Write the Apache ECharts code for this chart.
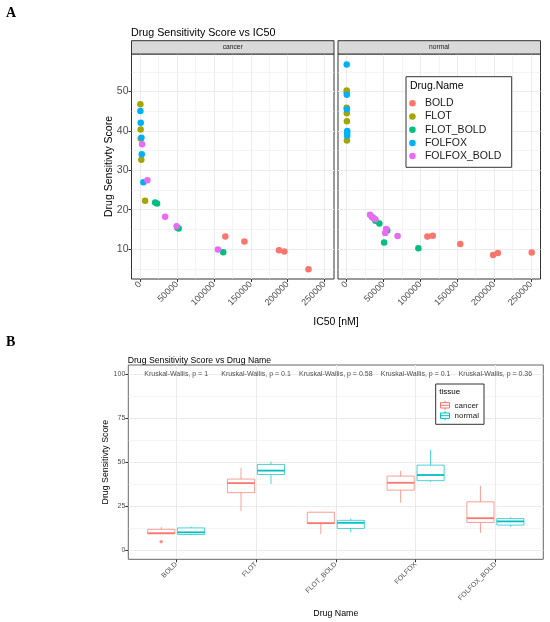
<!DOCTYPE html>
<html><head><meta charset="utf-8">
<script src="https://cdn.jsdelivr.net/npm/echarts@6/dist/echarts.min.js"></script>
<style>html,body{margin:0;padding:0;background:#fff}#c{width:550px;height:622px}</style>
</head><body><div id="c"></div>
<script>
// ---------- data ----------
const drugs = ['BOLD','FLOT','FLOT_BOLD','FOLFOX','FOLFOX_BOLD'];
const tissues = ['cancer','normal'];
// Panel A: [IC50 nM, Drug Sensitivity Score]
const cancerBOLD = [[115500,13.2],[141400,11.9],[188200,9.7],[195500,9.4],[228200,4.9]];
const cancerFLOT = [[400,46.8],[800,40.4],[900,38.1],[1700,32.7],[6800,22.3]];
const cancerFLOT_BOLD = [[20500,21.8],[23000,21.6],[50500,15.4],[52300,15.2],[112700,9.2]];
const cancerFOLFOX = [[400,45.1],[900,42.1],[1800,38.3],[2300,34.1],[4500,27.0]];
const cancerFOLFOX_BOLD = [[2700,36.6],[10000,27.5],[34000,18.2],[49500,15.8],[105500,9.9]];
const normalBOLD = [[109500,13.2],[116800,13.4],[154100,11.3],[198600,8.5],[205000,9.0],[250900,9.1]];
const normalFLOT = [[200,50.3],[300,49.8],[200,45.9],[300,44.5],[450,42.5],[450,37.6]];
const normalFLOT_BOLD = [[35500,18.0],[39100,17.2],[44500,16.5],[55100,14.7],[50900,11.7],[97300,10.2]];
const normalFOLFOX = [[200,56.9],[300,49.2],[400,45.5],[900,40.0],[700,39.4],[800,38.8]];
const normalFOLFOX_BOLD = [[31800,18.7],[34500,18.1],[39100,17.6],[53600,15.1],[52300,14.1],[69100,13.3]];
// Panel B: per drug [min, Q1, median, Q3, max]
const boxCancer = [[9.4,9.4,9.7,11.9,13.2],[22.3,32.7,38.1,40.4,46.8],[9.2,15.2,15.4,21.6,21.8],[27.0,34.1,38.3,42.1,45.1],[9.9,15.8,18.2,27.5,36.6]];
const boxNormal = [[8.5,9.0,10.2,12.7,13.4],[37.6,43.0,45.2,48.7,50.3],[10.2,12.4,15.6,17.0,18.0],[38.8,39.5,42.7,48.3,56.9],[13.3,14.3,16.4,18.0,18.7]];
const outliersCancer = [[0,4.9]]; // [drug index, value]
const pValues = ['1','0.1','0.58','0.1','0.36'];
// tick labels
const xTicksA = [0,50000,100000,150000,200000,250000];
const yTicksA = [10,20,30,40,50];
const yTicksB = [0,25,50,75,100];
const xTicksB = [0,1,2,3,4];

// ---------- styles ----------
const drugColors = ['#F8766D','#A3A500','#00BF7D','#00B0F6','#E76BF3'];
const tissueColors = ['#F8766D','#00BFC4'];
const FONT = '"Liberation Sans", Arial, Helvetica, sans-serif';
const GRIDC = '#ebebeb';
const A_X = [-11600, 262800], A_Y = [2.4, 59.55];
const B_X = [-0.6, 4.6], B_Y = [-5.1, 105.1];
const DODGE = 0.1875, HALF = 0.17;
const NOLINE = {show:false, onZero:false};

function mids(t, lo, hi){
  const step = t[1]-t[0], out=[];
  for (let v = t[0]-step/2; v <= hi; v += step) if (v >= lo) out.push(v);
  return out;
}

const dataA = [
  [cancerBOLD, cancerFLOT, cancerFLOT_BOLD, cancerFOLFOX, cancerFOLFOX_BOLD],
  [normalBOLD, normalFLOT, normalFLOT_BOLD, normalFOLFOX, normalFOLFOX_BOLD]
];

const gridsA = [
  {left:131.5, top:54, width:202.5, height:225},
  {left:338, top:54, width:202.5, height:225}
];
const gridB = {left:128.3, top:365, width:415, height:194.3};

const grids = gridsA.concat([gridB]).map(g => Object.assign({show:true, borderColor:'#333', borderWidth:1, backgroundColor:'#fff', containLabel:false}, g));
grids[2].borderColor = '#666';

const xAxes = [], yAxes = [];
gridsA.forEach((g, gi) => {
  xAxes.push({type:'value', gridIndex:gi, min:A_X[0], max:A_X[1], position:'bottom',
    axisLine:NOLINE,
    axisTick:{show:true, length:3, customValues:xTicksA, lineStyle:{color:'#333'}},
    axisLabel:{customValues:xTicksA, rotate:45, fontSize:9, color:'#4d4d4d', margin:4, fontFamily:FONT, formatter:v=>String(v)},
    splitLine:{show:true, lineStyle:{color:GRIDC, width:1}}});
  xAxes.push({type:'value', gridIndex:gi, min:A_X[0], max:A_X[1], position:'top',
    axisLine:NOLINE, axisLabel:{show:false},
    axisTick:{show:false, customValues:mids(xTicksA, A_X[0], A_X[1])},
    splitLine:{show:true, lineStyle:{color:GRIDC, width:0.5}}});
  yAxes.push({type:'value', gridIndex:gi, min:A_Y[0], max:A_Y[1], position:'left',
    axisLine:NOLINE,
    axisTick:{show:gi===0, length:3, customValues:yTicksA, lineStyle:{color:'#333'}},
    axisLabel:{show:gi===0, customValues:yTicksA, fontSize:10.5, color:'#4d4d4d', margin:3, fontFamily:FONT},
    splitLine:{show:true, lineStyle:{color:GRIDC, width:1}},
    name: gi===0 ? 'Drug Sensitivty Score' : '', nameLocation:'middle', nameGap:17, nameMoveOverlap:false,
    nameTextStyle:{fontSize:10.5, color:'#000', fontFamily:FONT}});
  yAxes.push({type:'value', gridIndex:gi, min:A_Y[0], max:A_Y[1], position:'right',
    axisLine:NOLINE, axisLabel:{show:false},
    axisTick:{show:false, customValues:mids(yTicksA, A_Y[0], A_Y[1])},
    splitLine:{show:true, lineStyle:{color:GRIDC, width:0.5}}});
});
// panel B axes
xAxes.push({type:'value', gridIndex:2, min:B_X[0], max:B_X[1], position:'bottom',
  axisLine:NOLINE,
  axisTick:{show:true, length:3, customValues:xTicksB, lineStyle:{color:'#333'}},
  axisLabel:{customValues:xTicksB, rotate:45, fontSize:7, color:'#4d4d4d', margin:4, fontFamily:FONT, formatter:v=>drugs[v]},
  splitLine:{show:true, lineStyle:{color:GRIDC, width:1}},
  name:'Drug Name', nameLocation:'middle', nameGap:49.5, nameTextStyle:{fontSize:8.8, color:'#000', fontFamily:FONT}});
yAxes.push({type:'value', gridIndex:2, min:B_Y[0], max:B_Y[1], position:'left',
  axisLine:NOLINE,
  axisTick:{show:true, length:3, customValues:yTicksB, lineStyle:{color:'#333'}},
  axisLabel:{customValues:yTicksB, fontSize:7, color:'#4d4d4d', margin:3, fontFamily:FONT},
  splitLine:{show:true, lineStyle:{color:GRIDC, width:1}},
  name:'Drug Sensitivty Score', nameLocation:'middle', nameGap:18, nameMoveOverlap:false,
  nameTextStyle:{fontSize:8.8, color:'#000', fontFamily:FONT}});
yAxes.push({type:'value', gridIndex:2, min:B_Y[0], max:B_Y[1], position:'right',
  axisLine:NOLINE, axisLabel:{show:false},
  axisTick:{show:false, customValues:mids(yTicksB, B_Y[0], B_Y[1])},
  splitLine:{show:true, lineStyle:{color:GRIDC, width:0.5}}});

const series = [];
dataA.forEach((facet, fi) => {
  facet.forEach((pts, di) => {
    series.push({type:'scatter', name:drugs[di], xAxisIndex:fi*2, yAxisIndex:fi*2,
      data:pts, symbolSize:6.5, itemStyle:{color:drugColors[di], opacity:1}, z:3});
  });
});

function boxRender(offset, color){
  return function(params, api){
    const x = api.value(0) + offset;
    const lo = api.value(1), q1 = api.value(2), med = api.value(3), q3 = api.value(4), hi = api.value(5);
    const tl = api.coord([x-HALF, q3]), br = api.coord([x+HALF, q1]);
    const cHi = api.coord([x, hi]), cQ3 = api.coord([x, q3]), cQ1 = api.coord([x, q1]), cLo = api.coord([x, lo]);
    const mL = api.coord([x-HALF, med]), mR = api.coord([x+HALF, med]);
    const thin = {stroke:color, lineWidth:1, opacity:0.7};
    return {type:'group', children:[
      {type:'line', shape:{x1:cHi[0], y1:cHi[1], x2:cQ3[0], y2:cQ3[1]}, style:thin},
      {type:'line', shape:{x1:cQ1[0], y1:cQ1[1], x2:cLo[0], y2:cLo[1]}, style:thin},
      {type:'rect', shape:{x:tl[0], y:tl[1], width:br[0]-tl[0], height:br[1]-tl[1]}, style:{fill:'#fff', stroke:color, lineWidth:1, strokeOpacity:0.7}},
      {type:'line', shape:{x1:mL[0], y1:mL[1], x2:mR[0], y2:mR[1]}, style:{stroke:color, lineWidth:1.8}}
    ]};
  };
}
[boxCancer, boxNormal].forEach((boxes, ti) => {
  series.push({type:'custom', name:tissues[ti], xAxisIndex:4, yAxisIndex:4,
    itemStyle:{color:tissueColors[ti]},
    renderItem: boxRender(ti===0 ? -DODGE : DODGE, tissueColors[ti]),
    encode:{x:0, y:[1,2,3,4,5]},
    data: boxes.map((b, i) => [i].concat(b)), z:3});
});
series.push({type:'scatter', name:'cancer', xAxisIndex:4, yAxisIndex:4,
  data: outliersCancer.map(o => [o[0]-DODGE, o[1]]), symbolSize:3.5,
  itemStyle:{color:tissueColors[0]}, z:4});
series.push({type:'scatter', name:'kw', xAxisIndex:4, yAxisIndex:4,
  data: pValues.map((p, i) => [i, 100]), symbolSize:1,
  itemStyle:{color:'rgba(0,0,0,0)'}, z:5,
  label:{show:true, position:'inside', fontSize:7, color:'#1a1a1a', fontFamily:FONT,
    formatter: p => 'Kruskal-Wallis, p = ' + pValues[p.dataIndex]}});

const boxIcon = 'path://M0,2H10V8H0Z M0,5H10 M5,0V2 M5,8V10';

const option = {
  animation:false,
  textStyle:{fontFamily:FONT},
  title:[
    {text:'Drug Sensitivity Score vs IC50', left:131, top:28, padding:0,
      textStyle:{fontSize:10.7, fontWeight:'normal', color:'#000', fontFamily:FONT}},
    {text:'Drug Sensitivity Score vs Drug Name', left:127.7, top:356, padding:0,
      textStyle:{fontSize:8.7, fontWeight:'normal', color:'#000', fontFamily:FONT}}
  ],
  grid: grids,
  xAxis: xAxes,
  yAxis: yAxes,
  legend:[
    {data: drugs, orient:'vertical', left:409.2, top:96.7, padding:0, itemGap:0,
      itemWidth:15, itemHeight:6.5, icon:'circle', selectedMode:false,
      textStyle:{fontSize:10.5, color:'#1a1a1a', lineHeight:13.2, fontFamily:FONT}},
    {data: tissues.map((t, i) => ({name:t, itemStyle:{color:'#fff', borderColor:tissueColors[i], borderWidth:1}})),
      orient:'vertical', left:440, top:400.1, padding:0, itemGap:0,
      itemWidth:9, itemHeight:9, icon:boxIcon, selectedMode:false,
      textStyle:{fontSize:8, color:'#1a1a1a', lineHeight:10.4, fontFamily:FONT}}
  ],
  graphic:[
    {type:'text', left:6, top:6, z:10, style:{text:'A', font:'bold 14px "Liberation Serif", "DejaVu Serif", serif', fill:'#000'}},
    {type:'text', left:6, top:335, z:10, style:{text:'B', font:'bold 14px "Liberation Serif", "DejaVu Serif", serif', fill:'#000'}},
    // facet strips
    {type:'rect', shape:{x:131.5, y:40.7, width:202.5, height:13.3}, z:5, style:{fill:'#d9d9d9', stroke:'#333', lineWidth:1}},
    {type:'rect', shape:{x:338, y:40.7, width:202.5, height:13.3}, z:5, style:{fill:'#d9d9d9', stroke:'#333', lineWidth:1}},
    {type:'text', x:131.5+101.25, y:47.4, z:6, style:{text:'cancer', font:'6.7px '+FONT, fill:'#1a1a1a', align:'center', verticalAlign:'middle'}},
    {type:'text', x:338+101.25, y:47.4, z:6, style:{text:'normal', font:'6.7px '+FONT, fill:'#1a1a1a', align:'center', verticalAlign:'middle'}},
    // x title panel A
    {type:'text', x:336, y:322, z:6, style:{text:'IC50 [nM]', font:'10.5px '+FONT, fill:'#000', align:'center', verticalAlign:'middle'}},
    // legend boxes
    {type:'rect', shape:{x:406, y:76.7, width:105.7, height:90.6}, z:3, style:{fill:'#fff', stroke:'#333', lineWidth:1}},
    {type:'text', x:410, y:86, z:6, style:{text:'Drug.Name', font:'10.5px '+FONT, fill:'#000', verticalAlign:'middle'}},
    {type:'rect', shape:{x:435.7, y:384, width:48.3, height:40.3}, z:3, style:{fill:'#fff', stroke:'#333', lineWidth:1}},
    {type:'text', x:439.3, y:392, z:6, style:{text:'tissue', font:'8px '+FONT, fill:'#000', verticalAlign:'middle'}}
  ],
  series: series
};
const chart = echarts.init(document.getElementById('c'), null, {renderer:'canvas'});
chart.setOption(option);
</script></body></html>
